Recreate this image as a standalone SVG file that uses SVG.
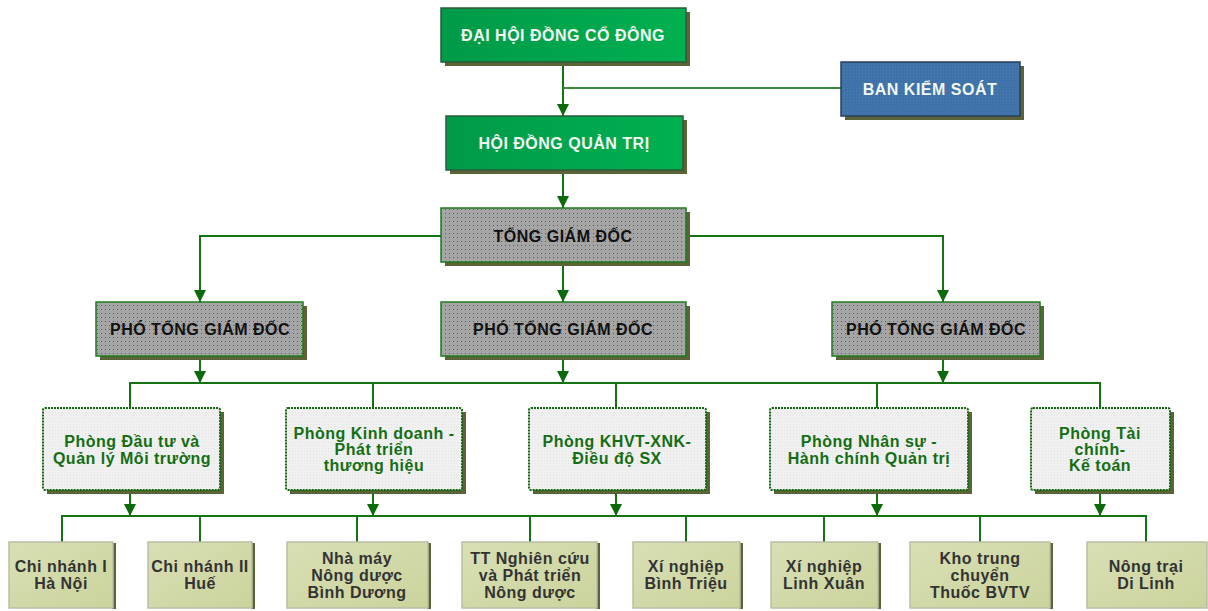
<svg xmlns="http://www.w3.org/2000/svg" width="1208" height="611" viewBox="0 0 1208 611">
<defs>
<linearGradient id="gGreen" x1="0" y1="0" x2="1" y2="0">
<stop offset="0" stop-color="#009a48"/><stop offset="1" stop-color="#00b050"/>
</linearGradient>
<pattern id="pGrey" width="4" height="4" patternUnits="userSpaceOnUse">
<rect width="4" height="4" fill="#a5a5a5"/><rect x="1" y="1" width="1" height="1" fill="#2f7a2f"/>
</pattern>
<pattern id="pBlue" width="3" height="3" patternUnits="userSpaceOnUse">
<rect width="3" height="3" fill="#3e72a8"/><rect x="1" y="1" width="1" height="1" fill="#4a7eb2"/>
</pattern>
<pattern id="pLight" width="3" height="3" patternUnits="userSpaceOnUse">
<rect width="3" height="3" fill="#f0f0f0"/><rect x="1" y="1" width="1" height="1" fill="#e4e4e4"/>
</pattern>
<linearGradient id="gOlive" x1="0" y1="0" x2="1" y2="1">
<stop offset="0" stop-color="#d9dfb5"/><stop offset="1" stop-color="#cbd39c"/>
</linearGradient>
<marker id="arr" viewBox="0 0 10 10" refX="10" refY="5" markerWidth="12" markerHeight="12" markerUnits="userSpaceOnUse" orient="auto">
<path d="M0,0 L10,5 L0,10 z" fill="#0b6b0b"/>
</marker>
<style>
.sh{fill:#5a6436}
.top{fill:url(#gGreen);stroke:#2e5a3a;stroke-width:1.5}
.bks{fill:url(#pBlue);stroke:#2a3f5a;stroke-width:1.5}
.gr{fill:url(#pGrey);stroke:#1e7a1e;stroke-width:1.5}
.ph{fill:url(#pLight);stroke:#0e6a0e;stroke-width:2;stroke-dasharray:2 1}
.bt{fill:url(#gOlive);stroke:#b9bea5;stroke-width:1.5}
text{font-family:"Liberation Sans",Arial,sans-serif;font-weight:bold;font-size:16px;letter-spacing:0.5px;text-anchor:middle}
.tw{fill:#f2f7f2}
.tb{fill:#111}
.tg{fill:#136e13}
.td{fill:#333}
.ln{fill:none;stroke:#137313;stroke-width:2}
.la{fill:none;stroke:#137313;stroke-width:2;marker-end:url(#arr)}
</style>
</defs>

<g id="connectors">
<path class="la" d="M563,62 V116"/>
<path class="ln" d="M841,88 H563" style="stroke:#3a8a3a"/>
<path class="la" d="M563,170 V208"/>
<path class="la" d="M441,236 H200 V302"/>
<path class="la" d="M563,262 V302"/>
<path class="la" d="M686,236 H943 V302"/>
<path class="la" d="M200,356 V383"/>
<path class="la" d="M563,356 V383"/>
<path class="la" d="M943,356 V383"/>
<path class="ln" d="M130,408 V383 H1100 V408"/>
<path class="ln" d="M373,383 V408 M616,383 V408 M877,383 V408"/>
<path class="la" d="M130,490 V516"/>
<path class="la" d="M373,490 V516"/>
<path class="la" d="M616,490 V516"/>
<path class="la" d="M877,490 V516"/>
<path class="la" d="M1100,490 V516"/>
<path class="ln" d="M62,542 V516 H1146 V542"/>
<path class="ln" d="M200,516 V542 M357,516 V542 M530,516 V542 M686,516 V542 M824,516 V542 M980,516 V542"/>
</g>

<g id="n-dhdcd">
<rect class="sh" x="445" y="12" width="245" height="54"/>
<rect class="top" x="441" y="8" width="245" height="54"/>
<text class="tw" x="563" y="41">ĐẠI HỘI ĐỒNG CỔ ĐÔNG</text>
</g>
<g id="n-bks">
<rect class="sh" x="845" y="66" width="179" height="54"/>
<rect class="bks" x="841" y="62" width="179" height="54"/>
<text class="tw" x="930" y="95">BAN KIỂM SOÁT</text>
</g>
<g id="n-hdqt">
<rect class="sh" x="450" y="120" width="237" height="54"/>
<rect class="top" x="446" y="116" width="237" height="54"/>
<text class="tw" x="564" y="149">HỘI ĐỒNG QUẢN TRỊ</text>
</g>
<g id="n-tgd">
<rect class="sh" x="445" y="212" width="245" height="54"/>
<rect class="gr" x="441" y="208" width="245" height="54"/>
<text class="tb" x="563" y="242">TỔNG GIÁM ĐỐC</text>
</g>
<g id="n-ptgd1">
<rect class="sh" x="100" y="306" width="207" height="54"/>
<rect class="gr" x="96" y="302" width="207" height="54"/>
<text class="tb" x="200" y="335">PHÓ TỔNG GIÁM ĐỐC</text>
</g>
<g id="n-ptgd2">
<rect class="sh" x="445" y="306" width="245" height="54"/>
<rect class="gr" x="441" y="302" width="245" height="54"/>
<text class="tb" x="563" y="335">PHÓ TỔNG GIÁM ĐỐC</text>
</g>
<g id="n-ptgd3">
<rect class="sh" x="836" y="306" width="208" height="54"/>
<rect class="gr" x="832" y="302" width="208" height="54"/>
<text class="tb" x="936" y="335">PHÓ TỔNG GIÁM ĐỐC</text>
</g>

<g id="n-p1">
<rect class="sh" x="47" y="412" width="177" height="82"/>
<rect class="ph" x="43" y="408" width="177" height="82" rx="2"/>
<text class="tg" x="132" y="447">Phòng Đầu tư và</text>
<text class="tg" x="132" y="464">Quản lý Môi trường</text>
</g>
<g id="n-p2">
<rect class="sh" x="290" y="412" width="176" height="82"/>
<rect class="ph" x="286" y="408" width="176" height="82" rx="2"/>
<text class="tg" x="374" y="439">Phòng Kinh doanh -</text>
<text class="tg" x="374" y="455">Phát triển</text>
<text class="tg" x="374" y="471">thương hiệu</text>
</g>
<g id="n-p3">
<rect class="sh" x="533" y="412" width="177" height="82"/>
<rect class="ph" x="529" y="408" width="177" height="82" rx="2"/>
<text class="tg" x="617" y="447">Phòng KHVT-XNK-</text>
<text class="tg" x="617" y="464">Điều độ SX</text>
</g>
<g id="n-p4">
<rect class="sh" x="774" y="412" width="198" height="82"/>
<rect class="ph" x="770" y="408" width="198" height="82" rx="2"/>
<text class="tg" x="869" y="447">Phòng Nhân sự -</text>
<text class="tg" x="869" y="464">Hành chính Quản trị</text>
</g>
<g id="n-p5">
<rect class="sh" x="1035" y="412" width="139" height="82"/>
<rect class="ph" x="1031" y="408" width="139" height="82" rx="2"/>
<text class="tg" x="1100" y="439">Phòng Tài</text>
<text class="tg" x="1100" y="455">chính-</text>
<text class="tg" x="1100" y="471">Kế toán</text>
</g>

<g id="n-b1">
<rect class="sh" x="112" y="543" width="4" height="66"/>
<rect class="bt" x="9" y="542" width="104" height="66"/>
<text class="td" x="61" y="572">Chi nhánh I</text>
<text class="td" x="61" y="589">Hà Nội</text>
</g>
<g id="n-b2">
<rect class="sh" x="251" y="543" width="4" height="66"/>
<rect class="bt" x="148" y="542" width="104" height="66"/>
<text class="td" x="200" y="572">Chi nhánh II</text>
<text class="td" x="200" y="589">Huế</text>
</g>
<g id="n-b3">
<rect class="sh" x="427" y="543" width="4" height="66"/>
<rect class="bt" x="287" y="542" width="141" height="66"/>
<text class="td" x="357" y="564">Nhà máy</text>
<text class="td" x="357" y="581">Nông dược</text>
<text class="td" x="357" y="598">Bình Dương</text>
</g>
<g id="n-b4">
<rect class="sh" x="596" y="543" width="4" height="66"/>
<rect class="bt" x="462" y="542" width="135" height="66"/>
<text class="td" x="530" y="564">TT Nghiên cứu</text>
<text class="td" x="530" y="581">và Phát triển</text>
<text class="td" x="530" y="598">Nông dược</text>
</g>
<g id="n-b5">
<rect class="sh" x="739" y="543" width="4" height="66"/>
<rect class="bt" x="633" y="542" width="107" height="66"/>
<text class="td" x="686" y="572">Xí nghiệp</text>
<text class="td" x="686" y="589">Bình Triệu</text>
</g>
<g id="n-b6">
<rect class="sh" x="877" y="543" width="4" height="66"/>
<rect class="bt" x="771" y="542" width="107" height="66"/>
<text class="td" x="824" y="572">Xí nghiệp</text>
<text class="td" x="824" y="589">Linh Xuân</text>
</g>
<g id="n-b7">
<rect class="sh" x="1049" y="543" width="4" height="66"/>
<rect class="bt" x="910" y="542" width="140" height="66"/>
<text class="td" x="980" y="564">Kho trung</text>
<text class="td" x="980" y="581">chuyển</text>
<text class="td" x="980" y="598">Thuốc BVTV</text>
</g>
<g id="n-b8">
<rect class="bt" x="1087" y="542" width="120" height="66"/>
<text class="td" x="1146" y="572">Nông trại</text>
<text class="td" x="1146" y="589">Di Linh</text>
</g>
</svg>
